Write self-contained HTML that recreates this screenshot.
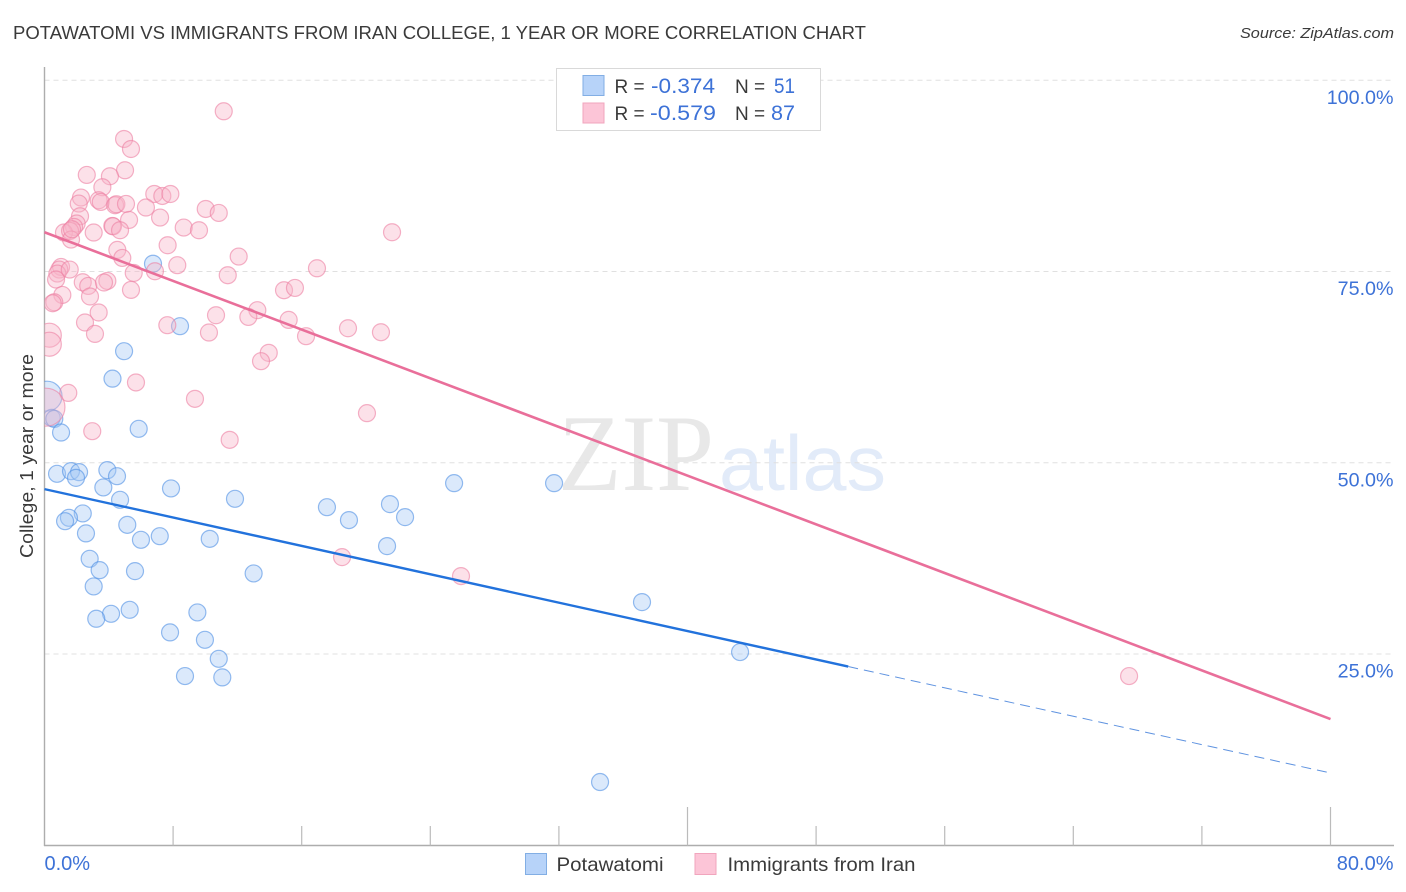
<!DOCTYPE html>
<html lang="en">
<head>
<meta charset="utf-8">
<title>Potawatomi vs Immigrants from Iran College, 1 Year or More Correlation Chart</title>
<style>
html,body{margin:0;padding:0;background:#fff;}
body{width:1406px;height:892px;overflow:hidden;}
svg{display:block;}
text{font-family:"Liberation Sans",sans-serif;}
</style>
</head>
<body>
<svg id="chart" width="1406" height="892" viewBox="0 0 1406 892" xmlns="http://www.w3.org/2000/svg">
  <defs>
    <clipPath id="plot-clip"><rect x="44.5" y="60" width="1350" height="785"/></clipPath>
  </defs>
  <rect x="0" y="0" width="1406" height="892" fill="#fff"/>

  <text x="13" y="39" font-size="18.5" fill="#3a3a3a" textLength="853" lengthAdjust="spacingAndGlyphs">POTAWATOMI VS IMMIGRANTS FROM IRAN COLLEGE, 1 YEAR OR MORE CORRELATION CHART</text>
  <text x="1394" y="38" font-size="15" font-style="italic" fill="#3a3a3a" text-anchor="end" textLength="154" lengthAdjust="spacingAndGlyphs">Source: ZipAtlas.com</text>

  <g>
    <text x="558" y="490" style="font-family:'Liberation Serif',serif" font-size="109" fill="#e8e8e8" textLength="156" lengthAdjust="spacingAndGlyphs">ZIP</text>
    <text x="719" y="490" font-size="78" fill="#e2ebf9" textLength="167" lengthAdjust="spacingAndGlyphs">atlas</text>
  </g>

  <g id="grid"></g>
  <g id="axes"></g>
  <g id="points" clip-path="url(#plot-clip)"></g>
  <g id="trends"></g>
  <g id="labels"></g>

  <text transform="translate(33 456) rotate(-90)" font-size="18" fill="#3a3a3a" text-anchor="middle" textLength="204" lengthAdjust="spacingAndGlyphs">College, 1 year or more</text>

  <g>
    <rect x="556.5" y="68.5" width="264" height="62" fill="#fff" stroke="#d9d9d9" stroke-width="1"/>
    <rect x="583" y="75.5" width="21" height="20" fill="#b7d3f9" stroke="#82aee4" stroke-width="1"/>
    <rect x="583" y="103" width="21" height="20" fill="#fcc5d7" stroke="#f1a5bd" stroke-width="1"/>
    <text x="614.5" y="93" font-size="19" fill="#3a3a3a">R =</text>
    <text x="651" y="93" font-size="21" fill="#3d72d7" textLength="64" lengthAdjust="spacingAndGlyphs">-0.374</text>
    <text x="735" y="93" font-size="19" fill="#3a3a3a">N =</text>
    <text x="774" y="93" font-size="21" fill="#3d72d7" textLength="21" lengthAdjust="spacingAndGlyphs">51</text>
    <text x="614.5" y="120" font-size="19" fill="#3a3a3a">R =</text>
    <text x="650" y="120" font-size="21" fill="#3d72d7" textLength="66" lengthAdjust="spacingAndGlyphs">-0.579</text>
    <text x="735" y="120" font-size="19" fill="#3a3a3a">N =</text>
    <text x="771" y="120" font-size="21" fill="#3d72d7" textLength="24" lengthAdjust="spacingAndGlyphs">87</text>
  </g>

  <g>
    <rect x="525.5" y="853.5" width="21" height="21" fill="#b7d3f9" stroke="#82aee4" stroke-width="1"/>
    <text x="556.5" y="871" font-size="19.5" fill="#3a3a3a" textLength="107" lengthAdjust="spacingAndGlyphs">Potawatomi</text>
    <rect x="695" y="853.5" width="21" height="21" fill="#fcc5d7" stroke="#f1a5bd" stroke-width="1"/>
    <text x="727.5" y="871" font-size="19.5" fill="#3a3a3a" textLength="188" lengthAdjust="spacingAndGlyphs">Immigrants from Iran</text>
  </g>
</svg>

<script>
// Percent-scale tick values and their printed labels
const yTickValues = [100, 75, 50, 25];
const yTickLabels = ["100.0%", "75.0%", "50.0%", "25.0%"];
const xTickValues = [8, 16, 24, 32, 40, 48, 56, 64, 72, 80];
const xMajorTicks = [40, 80];
const xEndValues = [0, 80];
const xEndLabels = ["0.0%", "80.0%"];

// Potawatomi series (percent values)
const potawatomiX = [6.75,8.43,4.95,4.23,0.16,0.45,0.61,1.03,5.86,0.78,1.65,2.15,1.96,3.91,4.51,3.66,7.87,11.85,4.70,2.38,1.52,1.28,5.15,2.58,6.00,7.17,10.28,2.81,3.43,5.63,13.01,3.06,5.30,4.14,3.22,9.51,7.81,9.98,10.84,8.74,11.06,17.57,18.94,21.49,22.43,21.31,25.48,31.70,37.17,43.27,34.56];
const potawatomiY = [76.02,67.86,64.59,61.00,58.71,55.87,55.74,53.96,54.44,48.56,48.91,48.78,48.03,49.04,48.25,46.78,46.65,45.29,45.16,43.38,42.81,42.37,41.89,40.77,39.93,40.41,40.06,37.45,35.97,35.84,35.54,33.84,30.78,30.26,29.61,30.44,27.83,26.86,24.38,22.12,21.95,44.20,42.51,44.60,42.90,39.11,47.34,47.34,31.79,25.26,8.27];
const potawatomiWeight = [1,1,1,1,3.1,1,1,1,1,1,1,1,1,1,1,1,1,1,1,1,1,1,1,1,1,1,1,1,1,1,1,1,1,1,1,1,1,1,1,1,1,1,1,1,1,1,1,1,1,1,1];

// Immigrants from Iran series (percent values)
const iranX = [11.15,4.95,5.38,5.01,4.07,2.63,3.60,2.27,2.13,3.37,3.50,4.39,4.47,5.07,6.83,7.33,7.83,6.31,7.19,10.03,10.84,5.26,2.21,2.00,1.84,3.06,4.22,4.26,4.70,8.66,9.61,1.21,1.59,1.65,7.66,4.53,4.84,8.26,12.08,11.40,5.55,6.87,1.03,0.92,0.80,0.72,1.57,2.38,2.72,3.91,3.70,5.38,1.11,2.83,0.61,0.51,14.90,15.58,13.24,12.68,15.19,10.67,10.23,3.37,2.52,3.14,7.64,0.30,0.30,13.95,13.47,5.69,1.48,9.36,11.52,2.97,0.09,21.62,16.95,18.88,20.93,16.27,20.06,18.51,25.91,67.47,1.71];
const iranY = [95.95,92.33,91.02,88.24,87.46,87.63,86.02,84.67,83.89,84.32,84.10,83.67,83.80,83.84,85.14,84.88,85.14,83.37,82.06,83.18,82.66,81.75,82.23,81.28,80.83,80.10,80.96,80.92,80.40,80.75,80.40,80.10,80.31,79.18,78.44,77.83,76.78,75.83,76.96,74.52,74.82,75.04,75.60,75.26,74.74,73.96,75.26,73.60,73.12,73.77,73.57,72.60,71.94,71.74,70.99,70.86,72.56,72.86,69.95,69.07,68.68,69.29,67.03,69.65,68.34,66.85,67.99,66.68,65.50,64.37,63.28,60.50,59.14,58.36,53.00,54.13,57.27,80.14,75.43,67.59,67.07,66.55,56.49,37.67,35.19,22.12,80.53];
const iranWeight = [1,1,1,1,1,1,1,1,1,1,1,1,1,1,1,1,1,1,1,1,1,1,1,1,1,1,1,1,1,1,1,1,1,1,1,1,1,1,1,1,1,1,1,1,1,1,1,1,1,1,1,1,1,1,1,1,1,1,1,1,1,1,1,1,1,1,1,2,2,1,1,1,1,1,1,1,5,1,1,1,1,1,1,1,1,1,1];

// Trend lines: y value at x = 0 and x = 80; Potawatomi is solid up to 50
const potawatomiTrend = [46.56, 9.45];
const potawatomiSolidEnd = 50;
const iranTrend = [80.14, 16.5];

const SVG_NS = "http://www.w3.org/2000/svg";
const xScale = v => 44.5 + v * (1286 / 80);
const yScale = v => 80.3 + (100 - v) * 7.65;

function mk(parentId, tag, attrs) {
  const el = document.createElementNS(SVG_NS, tag);
  for (const k in attrs) el.setAttribute(k, attrs[k]);
  document.getElementById(parentId).appendChild(el);
  return el;
}

yTickValues.forEach(v => {
  const g = mk("grid", "line", {x1: 44.5, x2: 1394, y1: yScale(v), y2: yScale(v), stroke: "#e0e0e0", "stroke-width": 1, "stroke-dasharray": "5 4"});
  
  
});

const yAxis = mk("axes", "line", {x1: 44.5, x2: 44.5, y1: 67, y2: 846, stroke: "#adadad", "stroke-width": 1.4});


const xAxis = mk("axes", "line", {x1: 44, x2: 1394, y1: 845.5, y2: 845.5, stroke: "#adadad", "stroke-width": 1.4});


xTickValues.forEach(v => {
  const top = xMajorTicks.includes(v) ? 807 : 826;
  const t = mk("axes", "line", {x1: xScale(v), x2: xScale(v), y1: top, y2: 845.5, stroke: "#bbbbbb", "stroke-width": 1.2});
  
  
});

function drawSeries(xs, ys, ws, fill, stroke, name) {
  xs.forEach((x, i) => {
    const c = mk("points", "circle", {cx: xScale(x), cy: yScale(ys[i]), r: 8.5 * Math.sqrt(ws[i]), fill: fill, "fill-opacity": 0.4, stroke: stroke, "stroke-opacity": 0.6, "stroke-width": 1.2});
    
    
  });
}
drawSeries(potawatomiX, potawatomiY, potawatomiWeight, "#a5c8f4", "#4f90e4", "potawatomi-point");
drawSeries(iranX, iranY, iranWeight, "#f8b3c8", "#ec7ea2", "iran-point");

function trendAt(trend, x) { return trend[0] + (trend[1] - trend[0]) * x / 80; }

const iranLine = mk("trends", "line", {x1: xScale(0), y1: yScale(trendAt(iranTrend, 0)), x2: xScale(80), y2: yScale(trendAt(iranTrend, 80)), stroke: "#e96f9a", "stroke-width": 2.6});


const potLine = mk("trends", "line", {x1: xScale(0), y1: yScale(trendAt(potawatomiTrend, 0)), x2: xScale(potawatomiSolidEnd), y2: yScale(trendAt(potawatomiTrend, potawatomiSolidEnd)), stroke: "#2272dc", "stroke-width": 2.4});


const potDash = mk("trends", "line", {x1: xScale(potawatomiSolidEnd), y1: yScale(trendAt(potawatomiTrend, potawatomiSolidEnd)), x2: xScale(80), y2: yScale(trendAt(potawatomiTrend, 80)), stroke: "#5f93e0", "stroke-width": 1, "stroke-dasharray": "10 6"});



yTickValues.forEach((v, i) => {
  const t = mk("labels", "text", {x: 1393.5, y: yScale(v) + 23.5, "text-anchor": "end", "font-size": 19.7, fill: "#3d72d7"});
  t.textContent = yTickLabels[i];
  
  
});
xEndValues.forEach((v, i) => {
  const t = mk("labels", "text", {x: v === 0 ? 44.5 : 1393.5, y: 870, "text-anchor": v === 0 ? "start" : "end", "font-size": 20, fill: "#3d72d7"});
  t.textContent = xEndLabels[i];
  
  
});
</script>
</body>
</html>
